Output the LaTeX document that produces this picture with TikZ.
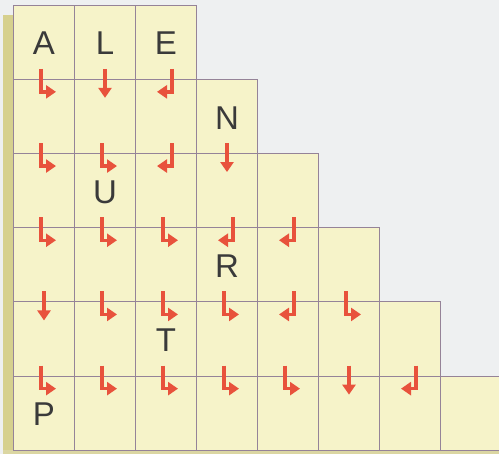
\documentclass[tikz,border=0pt]{standalone}
\usepackage{fontspec}
\setmainfont{Liberation Sans}
\usetikzlibrary{arrows.meta}
\definecolor{bgc}{HTML}{EEF0F1}
\definecolor{cellc}{HTML}{F6F3C9}
\definecolor{gridc}{HTML}{958398}
\definecolor{stripc}{HTML}{D6D08E}
\definecolor{arrc}{HTML}{E8523C}
\definecolor{letc}{HTML}{3A3A3A}
\tikzset{
  cellbox/.style={draw=gridc, fill=cellc, line width=0.7pt, minimum width=61pt, minimum height=74.2pt, inner sep=0pt},
  letterlbl/.style={text=letc, font=\fontsize{33}{33}\selectfont, inner sep=0pt},
  redarr/.style={draw=arrc, line width=3.4pt, -{Triangle[length=10pt,width=13pt]}},
}
\begin{document}
\begin{tikzpicture}[x=1pt,y=1pt]
\fill[bgc] (0,0) rectangle (499,-454);
\useasboundingbox (0,0) rectangle (499,-454);
\fill[stripc] (3,-15) rectangle (14,-454);
\fill[stripc!80!bgc] (3,-450) rectangle (499,-454);
\begin{scope}
\clip (0,0) rectangle (499,-454);
\foreach \r in {1,...,6}{
  \pgfmathtruncatemacro{\n}{\r+2}
  \foreach \c in {1,...,\n}{
    \node[cellbox] (c\r-\c) at ({13.5+61*(\c-0.5)},{-(5+74.2*(\r-0.5))}) {};
  }
}
\end{scope}
% letters
\node[letterlbl] (lA) at ([yshift=-1.5pt]c1-1.center) {A};
\node[letterlbl] (lL) at ([yshift=-1.5pt]c1-2.center) {L};
\node[letterlbl] (lE) at ([yshift=-1.5pt]c1-3.center) {E};
\node[letterlbl] (lN) at ([yshift=-1.5pt]c2-4.center) {N};
\node[letterlbl] (lU) at ([yshift=-1.5pt]c3-2.center) {U};
\node[letterlbl] (lR) at ([yshift=-1.5pt]c4-4.center) {R};
\node[letterlbl] (lT) at ([yshift=-1.5pt]c5-3.center) {T};
\node[letterlbl] (lP) at ([yshift=-1.5pt]c6-1.center) {P};
% arrows: down then right
\foreach \r/\c in {2/1,3/1,3/2,4/1,4/2,4/3,5/2,5/3,5/4,5/6,6/1,6/2,6/3,6/4,6/5}{
  \draw[redarr] ([xshift=-3pt,yshift=10pt]c\r-\c.north) |- ([xshift=12pt,yshift=-13pt]c\r-\c.north);
}
% straight down
\foreach \r/\c in {2/2,3/4,5/1,6/6}{
  \draw[redarr] ([yshift=10pt]c\r-\c.north) -- ([yshift=-19pt]c\r-\c.north);
}
% down then left
\foreach \r/\c in {2/3,3/3,4/4,4/5,5/5,6/7}{
  \draw[redarr] ([xshift=6pt,yshift=10pt]c\r-\c.north) |- ([xshift=-9pt,yshift=-13pt]c\r-\c.north);
}
\end{tikzpicture}
\end{document}
